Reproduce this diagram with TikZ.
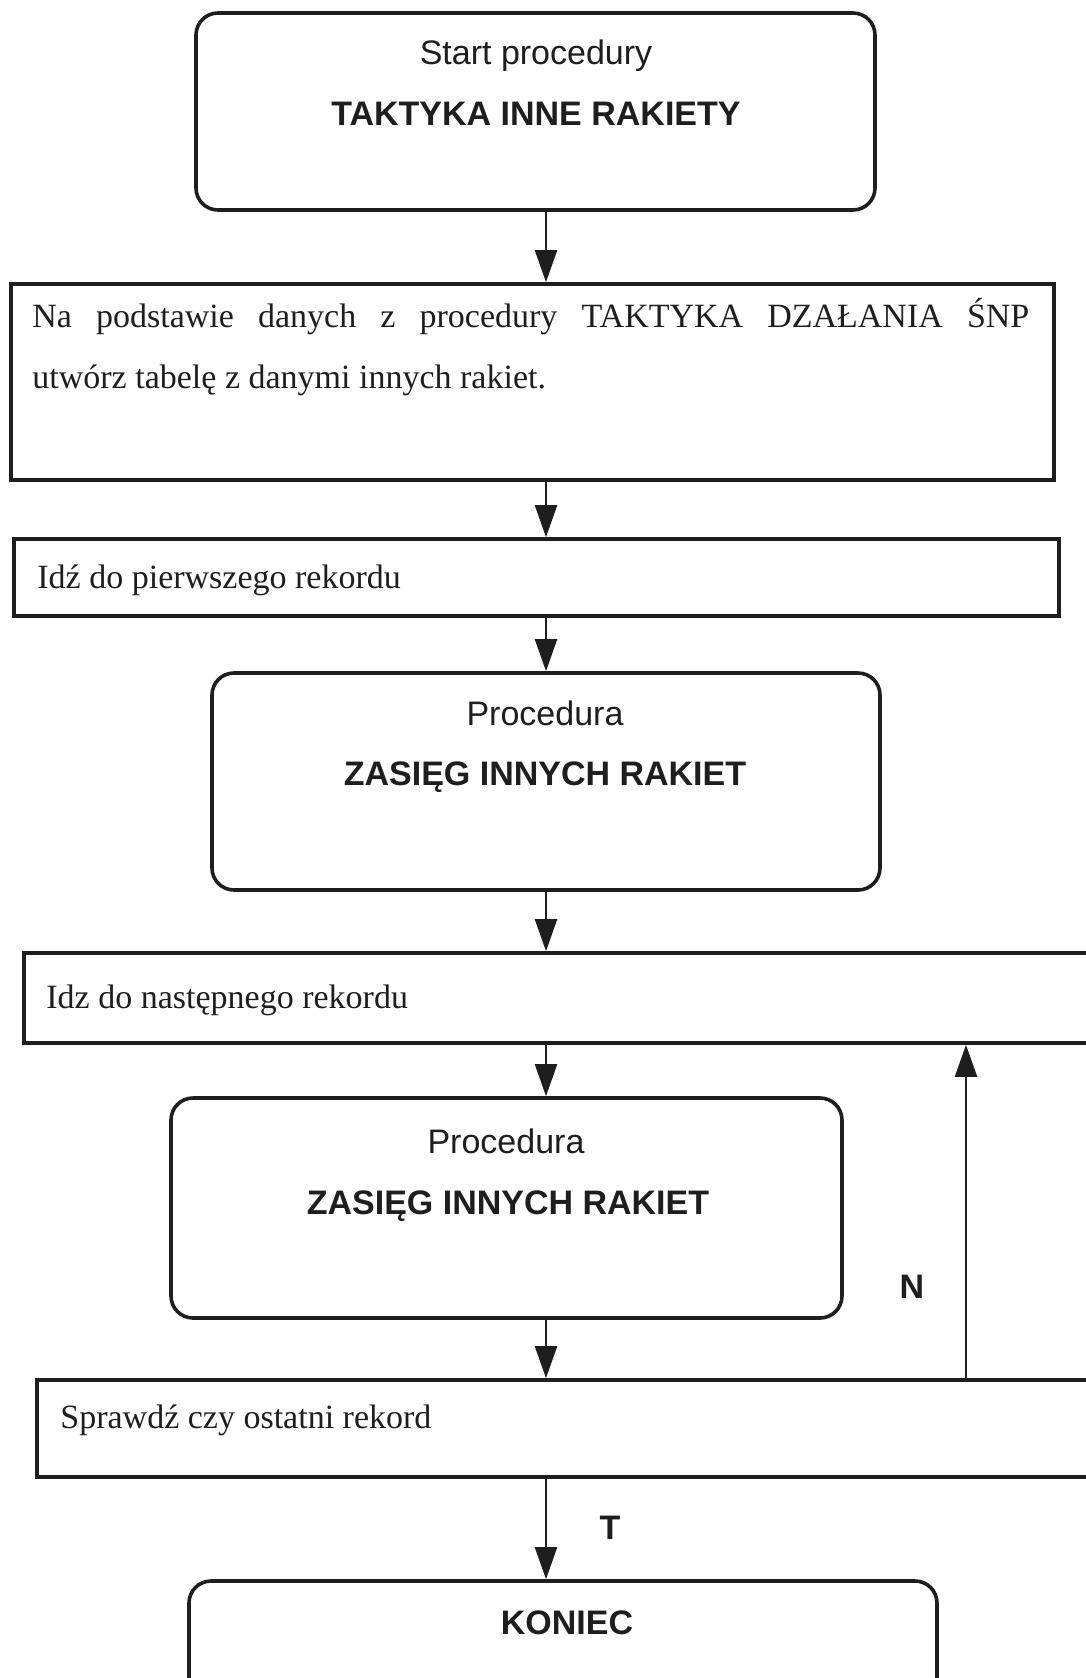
\documentclass[tikz,border=0pt]{standalone}
\usepackage{fontspec}
\setmainfont{Liberation Serif}
\setsansfont{Liberation Sans}
\usetikzlibrary{arrows.meta,fit}
\definecolor{ink}{HTML}{1E1E1E}

\begin{document}
\begin{tikzpicture}[x=0.5pt,y=-0.5pt,
  frame/.style={draw=ink, line width=1.8pt, inner sep=0pt},
  roundframe/.style={frame, rounded corners=11pt},
  flow/.style={draw=ink, line width=1.1pt, -{Triangle[length=16pt,width=11pt]}},
  serif/.style={font=\fontsize{17}{20}\selectfont, text=ink, anchor=base west, inner sep=0pt},
  sans/.style={font=\sffamily\fontsize{17}{20}\selectfont, text=ink, anchor=base, inner sep=0pt},
  sansbold/.style={font=\sffamily\bfseries\fontsize{17}{20}\selectfont, text=ink, anchor=base, inner sep=0pt}]

\useasboundingbox (0,0) rectangle (1086,1678);
\fill[white] (0,0) rectangle (1086,1678);
\clip (0,0) rectangle (1086,1678);

% boxes
\node[roundframe, fit={(196,13) (875,210)}] (b1) {};
\node[frame, fit={(11,284) (1054,480)}] (b2) {};
\node[frame, fit={(14,539) (1059,616)}] (b3) {};
\node[roundframe, fit={(212,673) (880,890)}] (b4) {};
\node[frame, fit={(24,953) (1110,1043)}] (b5) {};
\node[roundframe, fit={(171,1098) (842,1318)}] (b6) {};
\node[frame, fit={(37,1380) (1110,1477)}] (b7) {};
\node[roundframe, fit={(189,1581) (937,1700)}] (b8) {};

% texts
\node[sans] (t1a) at (536,64) {Start procedury};
\node[sansbold] (t1b) at (536,125) {TAKTYKA INNE RAKIETY};
\node[serif] (t2a) at (32,327) {\makebox[498.5pt][s]{Na podstawie danych z procedury TAKTYKA DZAŁANIA ŚNP}};
\node[serif] (t2b) at (32,388) {utwórz tabelę z danymi innych rakiet.};
\node[serif] (t3) at (37,588) {Idź do pierwszego rekordu};
\node[sans] (t4a) at (545,725) {Procedura};
\node[sansbold] (t4b) at (545,785) {ZASIĘG INNYCH RAKIET};
\node[serif] (t5) at (46,1008) {Idz do następnego rekordu};
\node[sans] (t6a) at (506,1153) {Procedura};
\node[sansbold] (t6b) at (508,1214) {ZASIĘG INNYCH RAKIET};
\node[serif] (t7) at (60,1428) {Sprawdź czy ostatni rekord};
\node[sansbold] (t8) at (567,1634) {KONIEC};
\node[sansbold, anchor=center] (lN) at (912,1287) {N};
\node[sansbold, anchor=center] (lT) at (610,1528) {T};

% connectors
\coordinate (spine) at (546,0);
\coordinate (loopx) at (966,0);
\draw[flow] (b1.south -| spine) -- (b2.north -| spine);
\draw[flow] (b2.south -| spine) -- (b3.north -| spine);
\draw[flow] (b3.south -| spine) -- (b4.north -| spine);
\draw[flow] (b4.south -| spine) -- (b5.north -| spine);
\draw[flow] (b5.south -| spine) -- (b6.north -| spine);
\draw[flow] (b6.south -| spine) -- (b7.north -| spine);
\draw[flow] (b7.south -| spine) -- (b8.north -| spine);
\draw[flow] (b7.north -| loopx) -- (b5.south -| loopx);
\end{tikzpicture}
\end{document}
